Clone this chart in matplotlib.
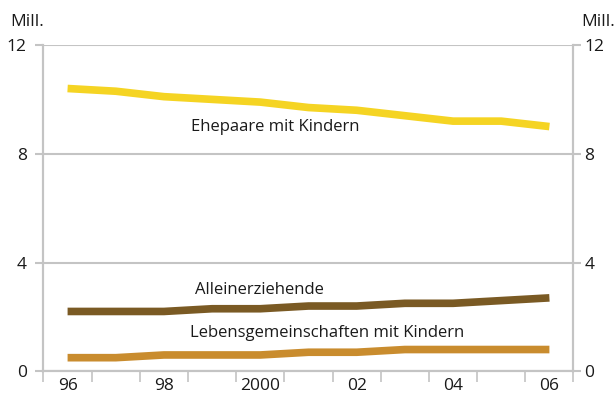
"""Familienformen mit Kindern 1996-2006 (Mill.)."""

import matplotlib
matplotlib.use("Agg")
import matplotlib.pyplot as plt
from matplotlib.ticker import FixedLocator

plt.rcParams["font.family"] = ["Open Sans", "DejaVu Sans"]

# ── Daten ──
years = [96, 97, 98, 99, 100, 101, 102, 103, 104, 105, 106]
ehepaare = [10.4, 10.3, 10.1, 10.0, 9.9, 9.7, 9.6, 9.4, 9.2, 9.2, 9.0]
alleinerziehende = [2.2, 2.2, 2.2, 2.3, 2.3, 2.4, 2.4, 2.5, 2.5, 2.6, 2.7]
lebensgem = [0.5, 0.5, 0.6, 0.6, 0.6, 0.7, 0.7, 0.8, 0.8, 0.8, 0.8]

xtick_pos = [96, 98, 100, 102, 104, 106]
xtick_labels = ["96", "98", "2000", "02", "04", "06"]
yticks = [0, 4, 8, 12]

GRAY = "#c4c4c4"
TXT = "#1a1a1a"
FS = 12.5

fig = plt.figure(figsize=(6.16, 4.0), dpi=100)
ax = fig.add_axes([0.0706, 0.0718, 0.8604, 0.8157])

ax.plot(years, ehepaare, color="#f5d423", lw=5.5, solid_capstyle="butt", zorder=3)
ax.plot(years, alleinerziehende, color="#7a5a24", lw=5.5, solid_capstyle="butt", zorder=3)
ax.plot(years, lebensgem, color="#c98c2e", lw=5.5, solid_capstyle="butt", zorder=3)

ax.set_xlim(95.5, 106.5)
ax.set_ylim(0, 12)

# x: Beschriftung in der Bandmitte, Striche an den Bandgrenzen
ax.set_xticks(xtick_pos)
ax.set_xticklabels(xtick_labels)
ax.xaxis.set_minor_locator(FixedLocator([y - 0.5 for y in years] + [years[-1] + 0.5]))
ax.tick_params(axis="x", which="major", length=0, pad=5, labelsize=FS, labelcolor=TXT)
ax.tick_params(axis="x", which="minor", length=8, width=1.2, color=GRAY, direction="out")

ax.set_yticks(yticks)
ax.tick_params(axis="y", which="major", length=6, width=1.5, color=GRAY,
               left=True, right=False, labelsize=FS, labelcolor=TXT, pad=6)
ax.yaxis.grid(True, color=GRAY, lw=1.5)
ax.xaxis.grid(False)
ax.set_axisbelow(True)

# rechte Achse mit eigener Beschriftung
ax2 = ax.twinx()
ax2.set_ylim(0, 12)
ax2.set_yticks(yticks)
ax2.tick_params(axis="y", length=6, width=1.5, color=GRAY,
                labelsize=FS, labelcolor=TXT, pad=2)

for a in (ax, ax2):
    for s in ["left", "right", "bottom"]:
        a.spines[s].set_color(GRAY)
        a.spines[s].set_linewidth(1.5)
    a.spines["top"].set_visible(False)

ax.text(100.3, 9.0, "Ehepaare mit Kindern", ha="center", va="center", fontsize=12, color=TXT)
ax.text(98.65, 3.0, "Alleinerziehende", ha="left", va="center", fontsize=12, color=TXT)
ax.text(98.55, 1.4, "Lebensgemeinschaften mit Kindern", ha="left", va="center", fontsize=12, color=TXT)

fig.text(0.016, 0.945, "Mill.", ha="left", va="center", fontsize=FS, color=TXT)
fig.text(0.998, 0.945, "Mill.", ha="right", va="center", fontsize=FS, color=TXT)

fig.savefig("out.png", dpi=100)
